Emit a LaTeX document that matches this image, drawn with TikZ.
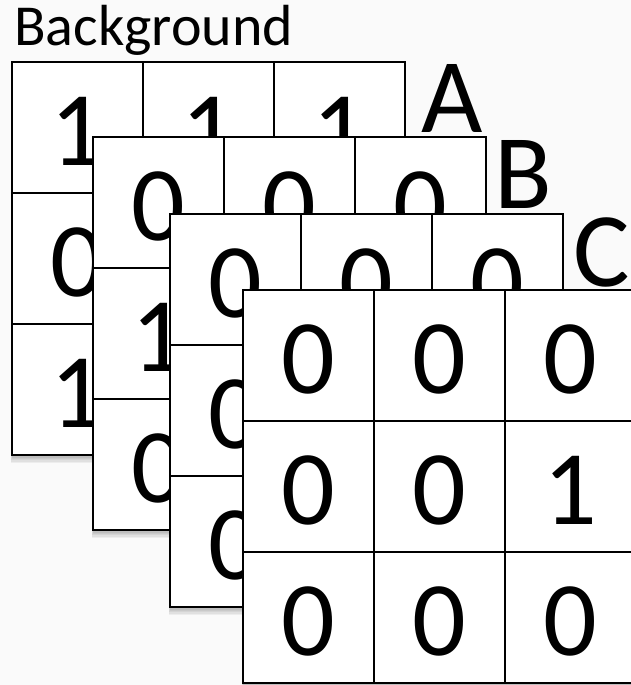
\documentclass[tikz,border=0pt]{standalone}
\usepackage{fontspec}
\setmainfont{Carlito}
\definecolor{bgc}{RGB}{250,250,250}
\tikzset{
  cell/.style={draw=black, line width=2pt, fill=white, minimum width=131pt, minimum height=131pt,
    inner sep=0pt, font=\fontsize{106}{110}\selectfont, text height=75pt, text depth=0pt},
  lbl/.style={font=\fontsize{106}{110}\selectfont, anchor=base west, inner sep=0pt},
  shade/.style={fill=black, opacity=0.05},
}
\newcommand{\drawgrid}[4]{%
  \foreach \k in {1,...,6}{\fill[shade] ({#2-0.4*\k+1},{#3+1.3*\k}) rectangle ({#2+393+0.4*\k-1},{#3+393+1.3*\k});}
  \foreach \r/\c/\d in {#4}{\node[cell] (#1\r\c) at ({#2+(\c-0.5)*131},{#3+(\r-0.5)*131}) {\d};}
}
\begin{document}
\begin{tikzpicture}[x=1pt,y=-1pt]
\fill[bgc] (0,0) rectangle (631,685);
\useasboundingbox (0,0) rectangle (631,685);
\clip (0,0) rectangle (631,685);
\node[anchor=base west, inner sep=0pt, font=\fontsize{58}{60}\selectfont] (bgtitle) at (14,46) {Background};
\drawgrid{A}{12}{62}{1/1/1,1/2/1,1/3/1,2/1/0,2/2/{},2/3/{},3/1/1,3/2/{},3/3/{}}
\node[lbl] (labA) at (421,132) {A};
\drawgrid{B}{93}{137}{1/1/0,1/2/0,1/3/0,2/1/1,2/2/{},2/3/{},3/1/0,3/2/{},3/3/{}}
\node[lbl] (labB) at (494,208) {B};
\drawgrid{C}{170}{214}{1/1/0,1/2/0,1/3/0,2/1/0,2/2/{},2/3/{},3/1/0,3/2/{},3/3/{}}
\node[lbl] (labC) at (573,286) {C};
\drawgrid{D}{243}{290}{1/1/0,1/2/0,1/3/0,2/1/0,2/2/0,2/3/1,3/1/0,3/2/0,3/3/0}
\end{tikzpicture}
\end{document}
